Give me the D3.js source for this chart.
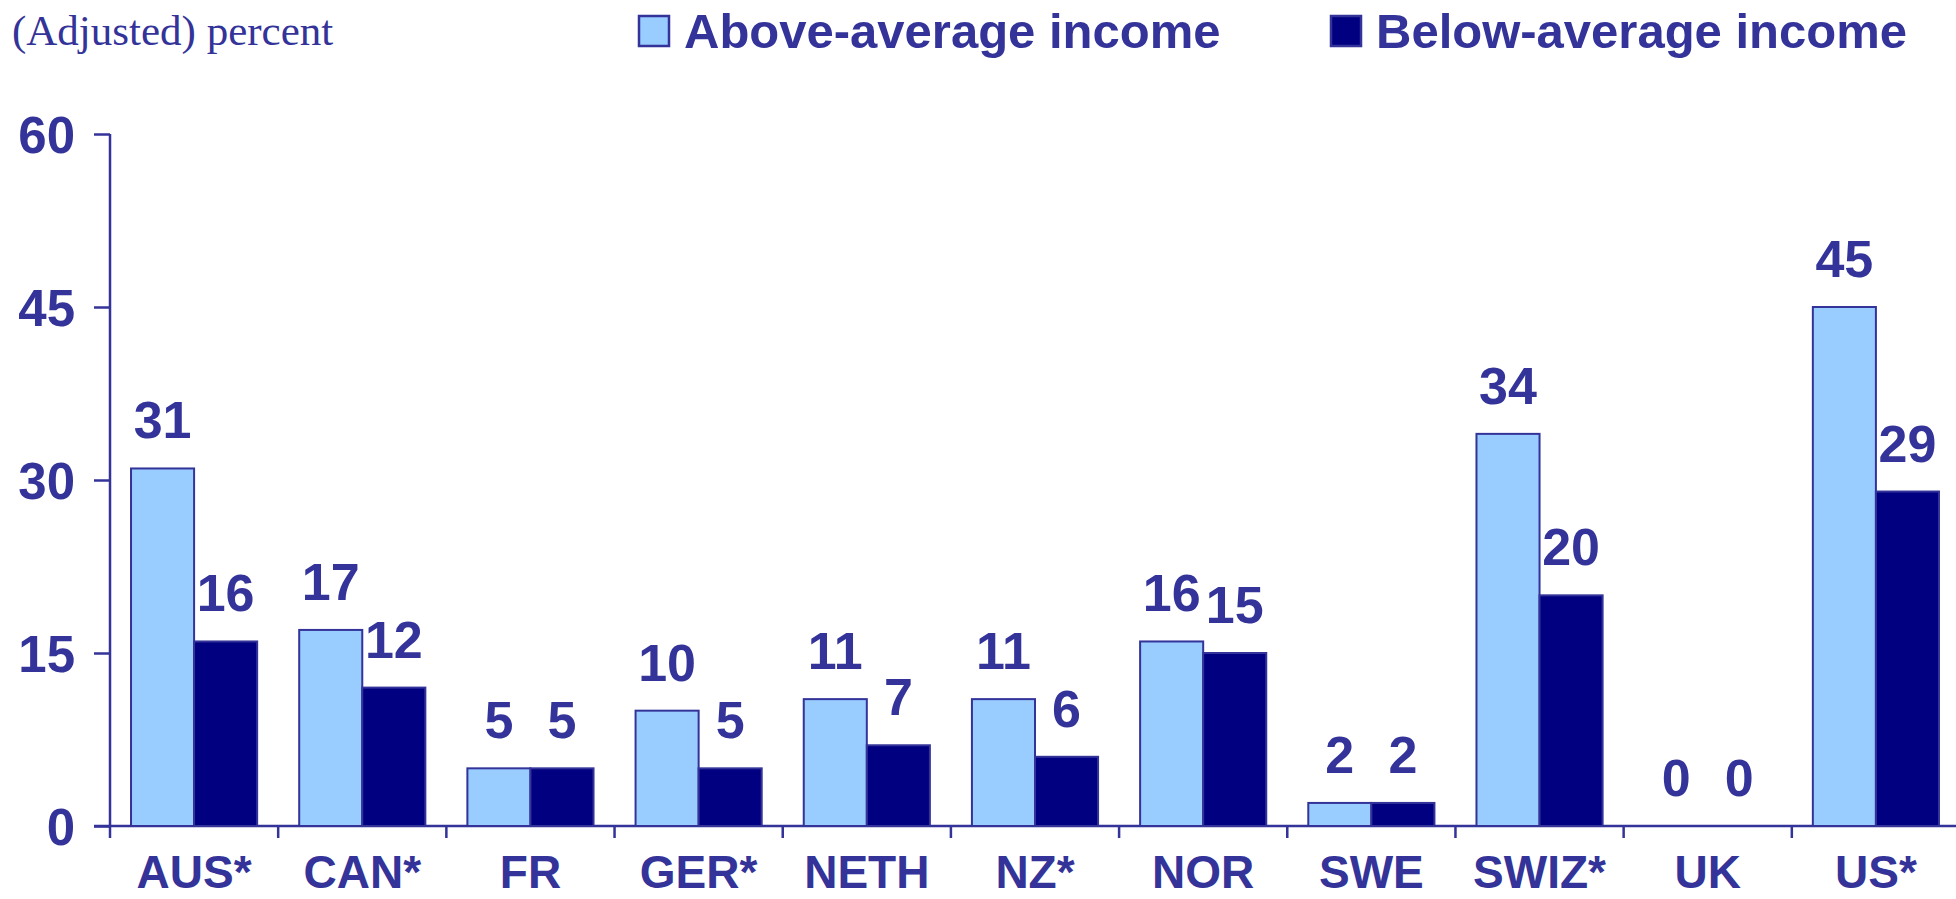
<!DOCTYPE html>
<html>
<head>
<meta charset="utf-8">
<script src="https://cdn.jsdelivr.net/npm/d3@7"></script>
<style>
  body { margin: 0; background: #fff; }
  svg { display: block; }
</style>
</head>
<body>
<div id="chart"></div>
<script>
// DATA ***********************************************
var countries = ["AUS*", "CAN*", "FR", "GER*", "NETH", "NZ*", "NOR", "SWE", "SWIZ*", "UK", "US*"];
var seriesNames = ["Above-average income", "Below-average income"];
var aboveAvg = [31, 17, 5, 10, 11, 11, 16, 2, 34, 0, 45];
var belowAvg = [16, 12, 5, 5, 7, 6, 15, 2, 20, 0, 29];
var yTicks = [0, 15, 30, 45, 60];

var width = 1956;
var height = 899;
var ink = "#333399";
var fills = ["#99CCFF", "#000080"];

var svg = d3.select("#chart")
        .append("svg")
        .attr("width", width)
        .attr("height", height);

// SCALES ***********************************************
var x = d3.scaleBand()
        .domain(countries)
        .range([110, 1960])
        .padding(0);

var pad = x.bandwidth() * 0.125;
var x1 = d3.scaleBand()
        .domain(seriesNames)
        .range([pad, x.bandwidth() - pad])
        .padding(0);

var y = d3.scaleLinear()
        .domain([0, 60])
        .range([826, 134]);

var rows = countries.map(function (c, i) {
        return { country: c, values: [aboveAvg[i], belowAvg[i]] };
});

// AXES ***********************************************
var yAxis = svg.append("g")
        .attr("transform", "translate(110,0)")
        .call(d3.axisLeft(y).tickValues(yTicks).tickSize(16).tickPadding(19));
yAxis.select(".domain").attr("stroke", ink).attr("stroke-width", 2.5)
        .attr("d", "M0," + y(60) + "V" + y(0));
yAxis.selectAll(".tick line").attr("stroke", ink).attr("stroke-width", 2.5);
yAxis.selectAll(".tick text")
        .attr("fill", ink)
        .attr("font-family", "'Liberation Sans', Arial, sans-serif")
        .attr("font-weight", "bold")
        .attr("font-size", 51)
        .attr("dy", "0.36em");

var xAxis = svg.append("g")
        .attr("transform", "translate(0," + y(0) + ")");
xAxis.append("line")
        .attr("x1", 94).attr("x2", width)
        .attr("stroke", ink).attr("stroke-width", 2.5);
xAxis.selectAll(".xtick")
        .data(countries)
        .enter()
        .append("line")
        .attr("class", "xtick")
        .attr("x1", function (d) { return x(d); })
        .attr("x2", function (d) { return x(d); })
        .attr("y1", 0)
        .attr("y2", 12)
        .attr("stroke", ink).attr("stroke-width", 2.5);
xAxis.selectAll(".xlabel")
        .data(countries)
        .enter()
        .append("text")
        .attr("class", "xlabel")
        .attr("x", function (d) { return x(d) + x.bandwidth() / 2; })
        .attr("y", 62)
        .attr("text-anchor", "middle")
        .attr("fill", ink)
        .attr("font-family", "'Liberation Sans', Arial, sans-serif")
        .attr("font-weight", "bold")
        .attr("font-size", 46)
        .text(function (d) { return d; });

// BARS ***********************************************
var groups = svg.append("g").selectAll(".group")
        .data(rows)
        .enter()
        .append("g")
        .attr("class", "group")
        .attr("transform", function (d) { return "translate(" + x(d.country) + ",0)"; });

groups.selectAll("rect")
        .data(function (d) { return d.values.map(function (v, i) { return { s: seriesNames[i], v: v, i: i }; }); })
        .enter()
        .filter(function (d) { return d.v > 0; })
        .append("rect")
        .attr("x", function (d) { return x1(d.s); })
        .attr("y", function (d) { return y(d.v); })
        .attr("width", x1.bandwidth())
        .attr("height", function (d) { return y(0) - y(d.v); })
        .attr("fill", function (d) { return fills[d.i]; })
        .attr("stroke", ink)
        .attr("stroke-width", 2);

groups.selectAll(".val")
        .data(function (d) { return d.values.map(function (v, i) { return { s: seriesNames[i], v: v }; }); })
        .enter()
        .append("text")
        .attr("class", "val")
        .attr("x", function (d) { return x1(d.s) + x1.bandwidth() / 2; })
        .attr("y", function (d) { return y(d.v) - 30; })
        .attr("text-anchor", "middle")
        .attr("fill", ink)
        .attr("font-family", "'Liberation Sans', Arial, sans-serif")
        .attr("font-weight", "bold")
        .attr("font-size", 52)
        .text(function (d) { return d.v; });

// LEGEND / TITLE ***********************************************
svg.append("text")
        .attr("x", 12)
        .attr("y", 45)
        .attr("fill", ink)
        .attr("font-family", "'Liberation Serif', 'Times New Roman', serif")
        .attr("font-size", 43)
        .text("(Adjusted) percent");

var legendX = [639, 1331];
var legend = svg.append("g").selectAll(".leg")
        .data(seriesNames)
        .enter()
        .append("g")
        .attr("class", "leg")
        .attr("transform", function (d, i) { return "translate(" + legendX[i] + ",16)"; });

legend.append("rect")
        .attr("width", 30)
        .attr("height", 30)
        .attr("fill", function (d, i) { return fills[i]; })
        .attr("stroke", ink)
        .attr("stroke-width", 2.5);

legend.append("text")
        .attr("x", 45)
        .attr("y", 32)
        .attr("fill", ink)
        .attr("font-family", "'Liberation Sans', Arial, sans-serif")
        .attr("font-weight", "bold")
        .attr("font-size", 49)
        .text(function (d) { return d; });
</script>
</body>
</html>
